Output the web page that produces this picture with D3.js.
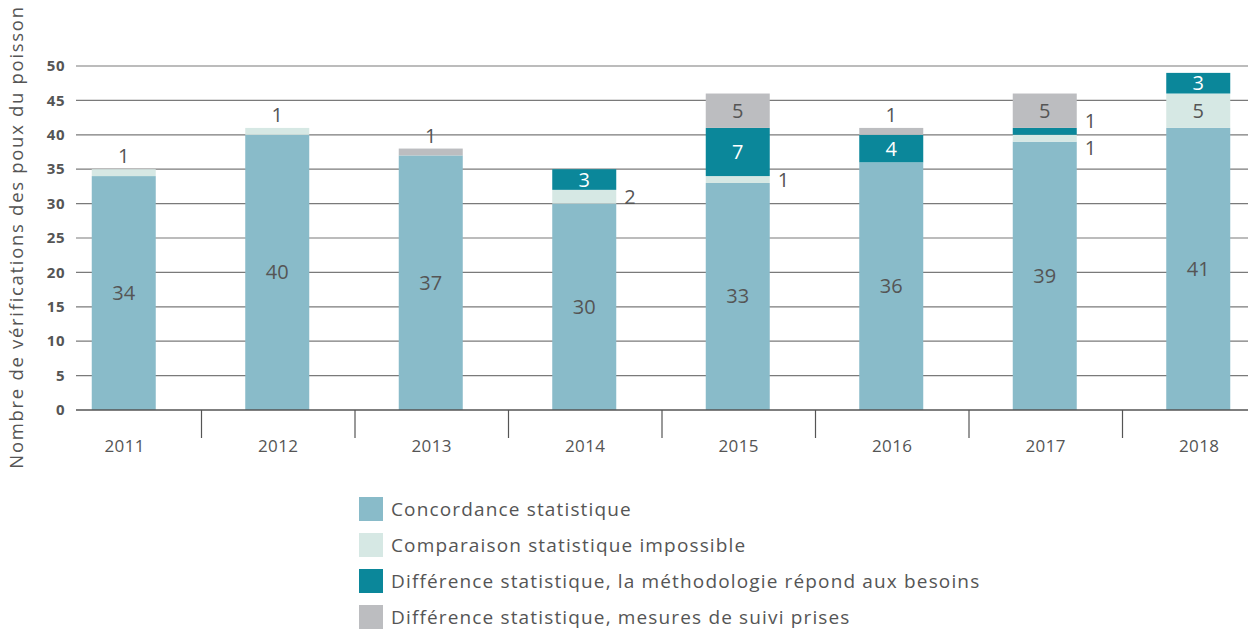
<!DOCTYPE html>
<html>
<head>
<meta charset="utf-8">
<script src="https://cdn.jsdelivr.net/npm/d3@7"></script>
<style>
  body { margin: 0; background: #fff; }
  text { font-family: "Open Sans", sans-serif; fill: #555; }
</style>
</head>
<body>
<div id="chart"></div>
<script>
// Data
var years = ["2011", "2012", "2013", "2014", "2015", "2016", "2017", "2018"];
var concordance = [34, 40, 37, 30, 33, 36, 39, 41];
var comparaison = [1, 1, 0, 2, 1, 0, 1, 5];
var methodologie = [0, 0, 0, 3, 7, 4, 1, 3];
var suivi = [0, 0, 1, 0, 5, 1, 5, 0];
var yTicks = [0, 5, 10, 15, 20, 25, 30, 35, 40, 45, 50];

var seriesNames = [
    "Concordance statistique",
    "Comparaison statistique impossible",
    "Différence statistique, la méthodologie répond aux besoins",
    "Différence statistique, mesures de suivi prises"
];
var colors = ["#89bbc9", "#d6e8e4", "#0b879a", "#bcbdc0"];
var labelColors = ["#555", "#555", "#fff", "#555"];

var W = 1248, H = 631;
var svg = d3.select("#chart").append("svg")
    .attr("width", W)
    .attr("height", H);

// Table for the stack
var table = years.map(function(y, i) {
    return { year: y, s0: concordance[i], s1: comparaison[i], s2: methodologie[i], s3: suivi[i] };
});
var stack = d3.stack().keys(["s0", "s1", "s2", "s3"])(table);

var x = d3.scaleBand().domain(years).range([48, 1276]);
var y = d3.scaleLinear().domain([0, 50]).range([410, 66]);
var barW = 64;
var barX = d => x(d) + x.bandwidth() / 2 - barW / 2 - 1;

// Gridlines
svg.append("g").selectAll("line")
    .data(yTicks.filter(d => d > 0))
    .enter().append("line")
    .attr("x1", 76).attr("x2", W)
    .attr("y1", d => y(d)).attr("y2", d => y(d))
    .attr("stroke", "#7a7a7a")
    .attr("stroke-width", 1.2);

// Y tick labels
svg.append("g").selectAll("text")
    .data(yTicks)
    .enter().append("text")
    .attr("x", 65)
    .attr("y", d => y(d))
    .attr("dy", "0.35em")
    .attr("text-anchor", "end")
    .style("font-size", "15px")
    .style("font-weight", "bold")
    .style("letter-spacing", "0.5px")
    .text(d => d);

// Bars
var layers = svg.append("g").selectAll("g")
    .data(stack)
    .enter().append("g")
    .attr("fill", (d, i) => colors[i]);

layers.selectAll("rect")
    .data(d => d)
    .enter().append("rect")
    .attr("x", d => barX(d.data.year))
    .attr("y", d => y(d[1]))
    .attr("width", barW)
    .attr("height", d => y(d[0]) - y(d[1]));

// Value labels
var labels = svg.append("g");
stack.forEach(function(layer, k) {
    layer.forEach(function(d, i) {
        var v = d[1] - d[0];
        if (v <= 0) return;
        var left = barX(d.data.year);
        var cx = left + barW / 2;
        var total = concordance[i] + comparaison[i] + methodologie[i] + suivi[i];
        var t = labels.append("text")
            .style("font-size", "20px")
            .style("fill", "#555")
            .text(v);
        if (v >= 3) {
            t.attr("x", cx).attr("y", y((d[0] + d[1]) / 2))
                .attr("dy", "0.35em")
                .attr("text-anchor", "middle")
                .style("fill", labelColors[k]);
        } else if (d[1] === total && d.data.year !== "2017") {
            t.attr("x", cx).attr("y", y(d[1]) - 13)
                .attr("dy", "0.35em")
                .attr("text-anchor", "middle");
        } else {
            // 2017 has two thin segments side by side: spread their labels
            var shift = d.data.year === "2017" ? (k === 1 ? 10 : -10) : 0;
            t.attr("x", left + barW + 8).attr("y", y((d[0] + d[1]) / 2) + shift)
                .attr("dy", "0.35em")
                .attr("text-anchor", "start");
        }
    });
});

// X axis baseline and separators
svg.append("line")
    .attr("x1", 76).attr("x2", W)
    .attr("y1", y(0)).attr("y2", y(0))
    .attr("stroke", "#555").attr("stroke-width", 1.5);

svg.append("g").selectAll("line")
    .data(years.slice(1))
    .enter().append("line")
    .attr("x1", d => x(d)).attr("x2", d => x(d))
    .attr("y1", y(0)).attr("y2", y(0) + 28)
    .attr("stroke", "#555").attr("stroke-width", 1.2);

svg.append("g").selectAll("text")
    .data(years)
    .enter().append("text")
    .attr("x", d => x(d) + x.bandwidth() / 2)
    .attr("y", 446)
    .attr("dy", "0.35em")
    .attr("text-anchor", "middle")
    .style("font-size", "17px")
    .style("letter-spacing", "0.4px")
    .text(d => d);

// Y axis title
svg.append("text")
    .attr("transform", "translate(23,237) rotate(-90)")
    .attr("text-anchor", "middle")
    .style("font-size", "18.5px")
    .style("letter-spacing", "1.7px")
    .text("Nombre de vérifications des poux du poisson");

// Legend
var legend = svg.append("g").attr("transform", "translate(359,497)");
seriesNames.forEach(function(name, i) {
    legend.append("rect")
        .attr("x", 0).attr("y", i * 36)
        .attr("width", 24).attr("height", 24)
        .attr("fill", colors[i]);
    legend.append("text")
        .attr("x", 32).attr("y", i * 36 + 12)
        .attr("dy", "0.35em")
        .style("font-size", "19px")
        .style("letter-spacing", "1.15px")
        .text(name);
});
</script>
</body>
</html>
